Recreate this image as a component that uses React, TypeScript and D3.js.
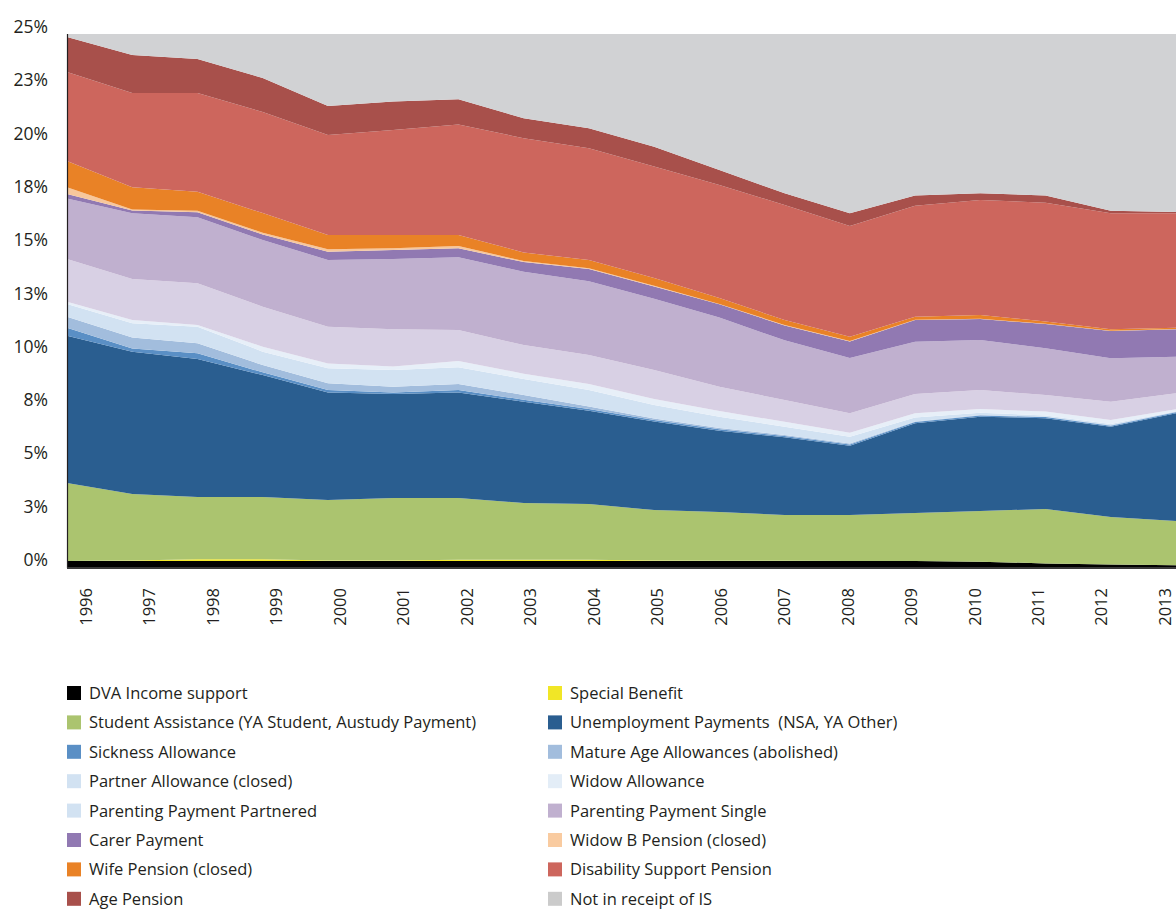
import React from "react";
import * as d3 from "d3";

// share of working-age population receiving income support, by payment type (%)
const years = [1996, 1997, 1998, 1999, 2000, 2001, 2002, 2003, 2004, 2005, 2006, 2007, 2008, 2009, 2010, 2011, 2012, 2013];
const yearLabels = years.map(String);

const dvaIncome = [0.28, 0.28, 0.28, 0.28, 0.28, 0.28, 0.28, 0.28, 0.28, 0.28, 0.28, 0.28, 0.28, 0.28, 0.25, 0.17, 0.12, 0.08];
const specialBenefit = [0, 0.02, 0.08, 0.08, 0.03, 0.03, 0.06, 0.06, 0.06, 0.02, 0.01, 0.01, 0, 0, 0, 0, 0, 0];
const studentAssistance = [3.66, 3.12, 2.92, 2.92, 2.83, 2.93, 2.9, 2.66, 2.61, 2.37, 2.29, 2.15, 2.16, 2.25, 2.38, 2.55, 2.23, 2.08];
const unemployment = [6.91, 6.68, 6.48, 5.72, 5.05, 4.87, 4.95, 4.75, 4.38, 4.15, 3.81, 3.64, 3.25, 4.21, 4.42, 4.26, 4.23, 5.05];
const sickness = [0.37, 0.15, 0.26, 0.13, 0.11, 0.08, 0.11, 0.1, 0.08, 0.07, 0.07, 0.06, 0.06, 0.06, 0.06, 0.05, 0.05, 0.05];
const matureAge = [0.52, 0.51, 0.47, 0.34, 0.32, 0.27, 0.28, 0.22, 0.12, 0.08, 0.06, 0.05, 0.04, 0.03, 0.02, 0.02, 0.02, 0.02];
const partnerAllowance = [0.6, 0.67, 0.78, 0.63, 0.7, 0.78, 0.79, 0.75, 0.77, 0.63, 0.53, 0.39, 0.32, 0.18, 0.1, 0.06, 0.06, 0.02];
const widowAllowance = [0.1, 0.16, 0.08, 0.23, 0.23, 0.16, 0.29, 0.25, 0.28, 0.28, 0.27, 0.23, 0.19, 0.2, 0.18, 0.18, 0.18, 0.1];
const parentingPartnered = [2.01, 1.92, 1.96, 1.88, 1.72, 1.75, 1.46, 1.34, 1.36, 1.36, 1.14, 1.02, 0.91, 0.9, 0.89, 0.78, 0.86, 0.75];
const parentingSingle = [2.84, 3.08, 3.09, 3.13, 3.13, 3.3, 3.41, 3.44, 3.46, 3.34, 3.24, 2.8, 2.59, 2.46, 2.35, 2.19, 2.04, 1.71];
const carerPayment = [0.21, 0.13, 0.24, 0.26, 0.39, 0.42, 0.42, 0.45, 0.58, 0.58, 0.62, 0.7, 0.78, 1.02, 0.98, 1.14, 1.28, 1.29];
const widowB = [0.31, 0.05, 0.07, 0.08, 0.11, 0.08, 0.11, 0.05, 0.03, 0.03, 0.02, 0.02, 0.02, 0.01, 0.01, 0.01, 0.01, 0.01];
const wifePension = [1.23, 1.04, 0.89, 0.92, 0.67, 0.62, 0.51, 0.4, 0.39, 0.36, 0.28, 0.23, 0.2, 0.14, 0.18, 0.1, 0.07, 0.06];
const disability = [4.18, 4.42, 4.63, 4.74, 4.69, 4.93, 5.19, 5.36, 5.24, 5.23, 5.3, 5.4, 5.19, 5.21, 5.39, 5.58, 5.44, 5.37];
const agePension = [1.64, 1.79, 1.6, 1.6, 1.36, 1.33, 1.18, 0.94, 0.94, 0.93, 0.7, 0.55, 0.6, 0.47, 0.32, 0.33, 0.12, 0.06];
const notInReceipt = [75.14, 75.98, 76.17, 77.06, 78.38, 78.17, 78.06, 78.95, 79.42, 80.29, 81.38, 82.47, 83.41, 82.58, 82.47, 82.58, 83.29, 83.35];

const seriesNames = [
  "DVA Income support",
  "Special Benefit",
  "Student Assistance (YA Student, Austudy Payment)",
  "Unemployment Payments  (NSA, YA Other)",
  "Sickness Allowance",
  "Mature Age Allowances (abolished)",
  "Partner Allowance (closed)",
  "Widow Allowance",
  "Parenting Payment Partnered",
  "Parenting Payment Single",
  "Carer Payment",
  "Widow B Pension (closed)",
  "Wife Pension (closed)",
  "Disability Support Pension",
  "Age Pension",
  "Not in receipt of IS",
];
const seriesValues = [
  dvaIncome, specialBenefit, studentAssistance, unemployment, sickness, matureAge,
  partnerAllowance, widowAllowance, parentingPartnered, parentingSingle, carerPayment,
  widowB, wifePension, disability, agePension, notInReceipt,
];

const yTicks = [0, 2.5, 5, 7.5, 10, 12.5, 15, 17.5, 20, 22.5, 25];
const yTickLabels = ["0%", "3%", "5%", "8%", "10%", "13%", "15%", "18%", "20%", "23%", "25%"];

// colours
const areaColors = [
  "#000000", "#f1e626", "#abc46f", "#2a5e90", "#5a8fc5", "#a2bddd", "#d2e2f2", "#e7eff8",
  "#d8d0e4", "#c0b0cf", "#9179b2", "#f7c79c", "#e98226", "#cd665d", "#a8504b", "#d1d2d4",
];
const legendColors = [
  "#000000", "#f1e626", "#abc46f", "#2a5e90", "#5a8fc5", "#a2bddd", "#d2e2f2", "#e3edf7",
  "#d2e2f2", "#c0b0cf", "#9179b2", "#f9cba0", "#e98226", "#cd665d", "#a8504b", "#cbcbcb",
];

const W = 1176;
const H = 909;
const FONT = "'Open Sans', 'Noto Sans', sans-serif";
const TEXT = "#231f20";

export default function App() {
  const x = d3.scaleLinear().domain([years[0], years[years.length - 1]]).range([67, 1176]);
  const y = d3.scaleLinear().domain([0, 25]).range([567, 34]);
  const labelX = d3.scalePoint<string>().domain(yearLabels).range([86, 1165]);

  const rows = years.map((yr, i) => {
    const row: Record<string, number> = { year: yr };
    seriesNames.forEach((n, k) => (row[n] = seriesValues[k][i]));
    return row;
  });
  const stacked = d3.stack<Record<string, number>>().keys(seriesNames)(rows);
  const area = d3
    .area<any>()
    .x((d) => x(d.data.year))
    .y0((d) => y(d[0]))
    .y1((d) => y(d[1]));

  const [x0, x1] = x.range();
  const [yBottom, yTop] = y.range();

  return (
    <svg
      width={W}
      height={H}
      style={{ position: "absolute", left: 0, top: 0, background: "#fff" }}
      fontFamily={FONT}
    >
      <defs>
        <clipPath id="plot">
          <rect x={x0} y={yTop} width={x1 - x0} height={yBottom - yTop} />
        </clipPath>
      </defs>

      <g clipPath="url(#plot)">
        {stacked.map((s, i) => (
          <path key={s.key} d={area(s) || ""} fill={areaColors[i]} />
        ))}
      </g>

      {/* axes */}
      <line x1={x0 + 0.5} x2={x0 + 0.5} y1={yTop} y2={yBottom + 1} stroke={TEXT} strokeWidth={1.2} />
      <line x1={x0} x2={x1} y1={yBottom + 1} y2={yBottom + 1} stroke="#3a3a3a" strokeWidth={2} />

      {yTicks.map((t, i) => (
        <text key={t} x={48} y={y(t) - 1} textAnchor="end" fontSize={17.5} fill={TEXT}>
          {yTickLabels[i]}
        </text>
      ))}

      {yearLabels.map((lab) => (
        <text
          key={lab}
          transform={`translate(${labelX(lab)},588) rotate(-90)`}
          textAnchor="end"
          dy="0.36em"
          fontSize={16.5}
          fill={TEXT}
        >
          {lab}
        </text>
      ))}

      {/* legend, two columns */}
      {seriesNames.map((n, i) => {
        const col = i % 2;
        const row = Math.floor(i / 2);
        const cy = 693 + row * 29.4;
        const lx = col === 0 ? 67 : 548;
        return (
          <g key={n}>
            <rect x={lx} y={cy - 7} width={14} height={14} fill={legendColors[i]} />
            <text x={lx + 22} y={cy + 6} fontSize={16.5} fill={TEXT} style={{ whiteSpace: "pre" }}>
              {n}
            </text>
          </g>
        );
      })}
    </svg>
  );
}
